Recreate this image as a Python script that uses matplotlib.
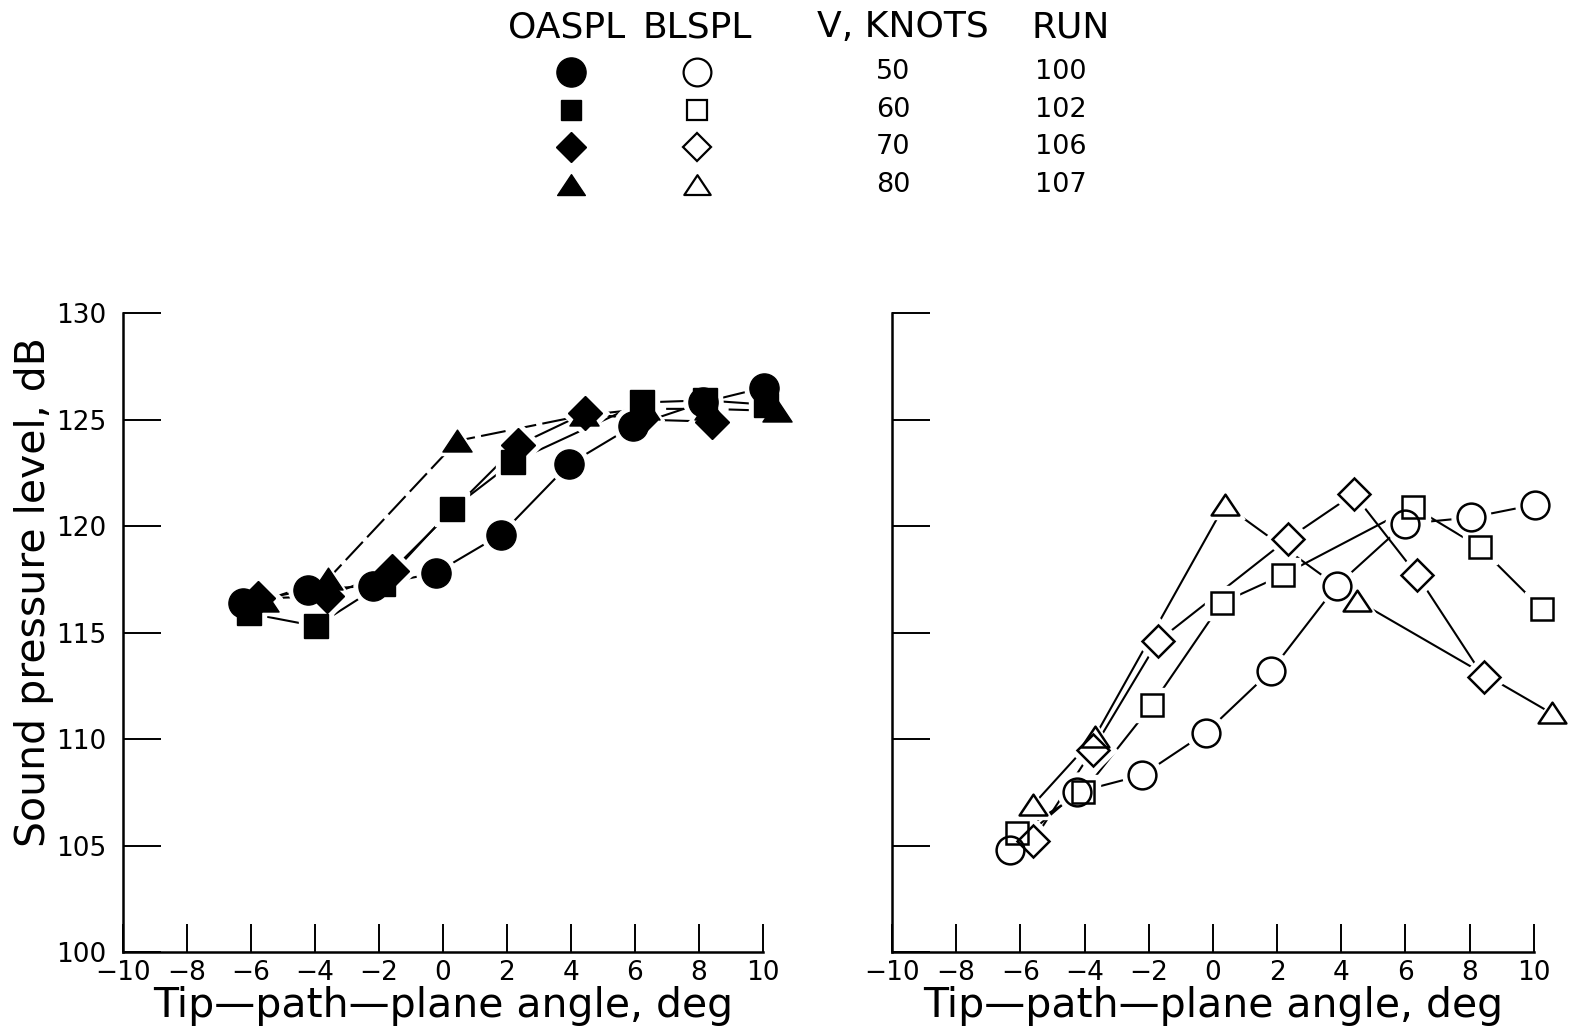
import matplotlib.pyplot as plt
from matplotlib.path import Path
from matplotlib.ticker import MultipleLocator

plt.rcParams['font.family'] = ['DejaVu Sans']

speeds = [50, 60, 70, 80]
runs = [100, 102, 106, 107]

# OASPL, left panel (filled symbols)
oa50_x = [-6.25, -4.22, -2.19, -0.22, 1.81, 3.94, 5.94, 8.13, 10.03]
oa50_y = [116.4, 117.0, 117.2, 117.8, 119.6, 122.9, 124.7, 125.8, 126.5]
oa60_x = [-6.06, -3.97, -1.88, 0.28, 2.19, 6.22, 8.19, 10.1]
oa60_y = [115.9, 115.3, 117.3, 120.8, 123.0, 125.8, 125.9, 125.7]
oa70_x = [-5.78, -3.63, -1.6, 2.34, 4.44, 6.16, 8.4]
oa70_y = [116.6, 116.7, 117.9, 123.8, 125.3, 125.0, 124.9]
oa80_x = [-5.6, -3.6, 0.45, 4.4, 6.3, 8.3, 10.45]
oa80_y = [116.5, 117.5, 124.0, 125.2, 125.5, 125.5, 125.4]

# BLSPL, right panel (open symbols)
bl50_x = [-6.32, -4.24, -2.21, -0.22, 1.81, 3.86, 5.98, 8.04, 10.03]
bl50_y = [104.8, 107.5, 108.3, 110.3, 113.2, 117.2, 120.1, 120.4, 121.0]
bl60_x = [-6.11, -4.05, -1.9, 0.28, 2.18, 6.23, 8.32, 10.25]
bl60_y = [105.6, 107.5, 111.6, 116.4, 117.7, 120.9, 119.0, 116.1]
bl70_x = [-5.61, -3.74, -1.71, 2.34, 4.39, 6.36, 8.44]
bl70_y = [105.2, 109.5, 114.6, 119.4, 121.5, 117.7, 112.9]
bl80_x = [-5.61, -3.68, 0.37, 4.49, 10.56]
bl80_y = [106.9, 110.1, 121.0, 116.5, 111.2]

tri = Path([(-1, -0.72), (1, -0.72), (0, 0.78), (-1, -0.72)], closed=True)
mk = ['o', 's', 'D', tri]
ms = [21, 17, 17, 21]

fig = plt.figure(figsize=(15.75, 10.31), dpi=100)
axL = fig.add_axes([0.0781, 0.0766, 0.4063, 0.6198])
axR = fig.add_axes([0.5663, 0.0766, 0.4076, 0.6198])


def style(ax, labels=True):
    ax.set_xlim(-10, 10)
    ax.set_ylim(100, 130)
    ax.spines[['top', 'right']].set_visible(False)
    for s in ['left', 'bottom']:
        ax.spines[s].set_linewidth(1.8)
    ax.xaxis.set_major_locator(MultipleLocator(2))
    ax.yaxis.set_major_locator(MultipleLocator(5))
    ax.tick_params(axis='x', direction='in', length=20, width=1.4,
                   labelsize=19, pad=6)
    ax.tick_params(axis='y', direction='in', length=27, width=1.4,
                   labelsize=19, pad=12, labelleft=labels)
    ax.set_xlabel('Tip—path—plane angle, deg', fontsize=29.5, labelpad=0)


def draw(ax, xs, ys, styles, filled):
    for x, y, ls in zip(xs, ys, styles):
        ax.plot(x, y, color='black', lw=1.5, ls=ls, zorder=2, clip_on=False)
    # white halo so the lines stop short of the symbols
    for x, y, m, s in zip(xs, ys, mk, ms):
        ax.plot(x, y, ls='none', marker=m, ms=s + 7, mfc='white',
                mec='white', zorder=3, clip_on=False)
    for x, y, m, s in zip(xs, ys, mk, ms):
        if filled:
            ax.plot(x, y, ls='none', marker=m, ms=s, mfc='black', mec='black',
                    mew=1, zorder=4, clip_on=False)
        else:
            ax.plot(x, y, ls='none', marker=m, ms=s - 1, mfc='none',
                    mec='black', mew=1.8, zorder=4, clip_on=False)


style(axL)
style(axR, labels=False)
axL.set_ylabel('Sound pressure level, dB', fontsize=29.5)
axL.yaxis.set_label_coords(-0.108, 0.563)

draw(axL, [oa50_x, oa60_x, oa70_x, oa80_x], [oa50_y, oa60_y, oa70_y, oa80_y],
     ['-', '-', '-', (0, (12, 3))], True)
draw(axR, [bl50_x, bl60_x, bl70_x, bl80_x], [bl50_y, bl60_y, bl70_y, bl80_y],
     ['-', '-', '-', '-'], False)

# legend table at the top
lax = fig.add_axes([0, 0, 1, 1])
lax.set_axis_off()
lax.set_xlim(0, 1)
lax.set_ylim(0, 1)
hy = 0.9735
fig.text(0.360, hy, 'OASPL', fontsize=26, ha='center', va='center')
fig.text(0.443, hy, 'BLSPL', fontsize=26, ha='center', va='center')
fig.text(0.573, hy, 'V, KNOTS', fontsize=26, ha='center', va='center')
fig.text(0.680, hy, 'RUN', fontsize=26, ha='center', va='center')
rows = [0.930, 0.893, 0.857, 0.821]
lms = [21, 15, 15, 20]
for i in range(4):
    lax.plot(0.3625, rows[i], marker=mk[i], ms=lms[i], color='black', ls='none')
    lax.plot(0.4425, rows[i], marker=mk[i], ms=lms[i] - 1, mfc='none',
             mec='black', mew=1.6, ls='none')
    fig.text(0.567, rows[i], str(speeds[i]), fontsize=19.5, ha='center', va='center')
    fig.text(0.6737, rows[i], str(runs[i]), fontsize=19.5, ha='center', va='center')

plt.savefig('out.png', dpi=100)
